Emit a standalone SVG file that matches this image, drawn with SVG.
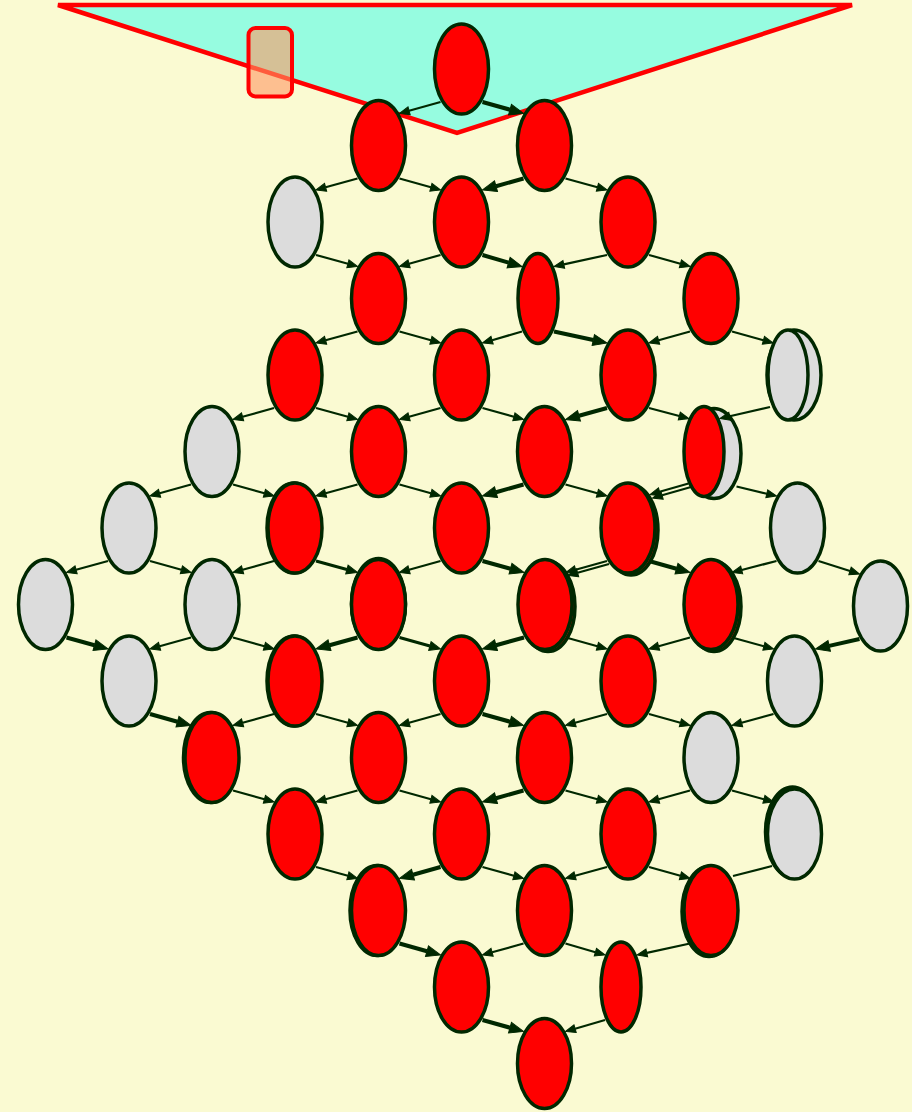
<svg xmlns="http://www.w3.org/2000/svg" width="912" height="1112" viewBox="0 0 912 1112">
<style>
.bg{fill:#fafad2}
ellipse{stroke:#002800;stroke-width:3.5}
.r{fill:#ff0000}
.g{fill:#dcdcdc}
#edges line{stroke:#002800;stroke-width:2.2;fill:none;marker-end:url(#a)}
#edges line.t{stroke-width:4;marker-end:url(#at)}
#edges line.m{stroke-width:3;marker-end:url(#am)}
#edges line.x{marker-end:none}
.ah{fill:#002800;stroke:#002800;stroke-width:1}
</style>
<defs>
<marker id="a" markerUnits="userSpaceOnUse" orient="auto" refX="0" refY="0" markerWidth="20" markerHeight="20" overflow="visible"><path class="ah" d="M0,-4 L10,0 L0,4 z"/></marker>
<marker id="am" markerUnits="userSpaceOnUse" orient="auto" refX="0" refY="0" markerWidth="20" markerHeight="20" overflow="visible"><path class="ah" d="M0,-4.5 L11,0 L0,4.5 z"/></marker>
<marker id="at" markerUnits="userSpaceOnUse" orient="auto" refX="0" refY="0" markerWidth="20" markerHeight="20" overflow="visible"><path class="ah" d="M0,-5.5 L14,0 L0,5.5 z"/></marker>
</defs>
<rect class="bg" x="0" y="0" width="912" height="1112"/>
<g id="cluster">
<polygon points="58,5 852,5 457,133" fill="#96fce0" stroke="#ff0000" stroke-width="4.5"/>
<rect x="248.5" y="28" width="43.5" height="68.5" rx="7" fill="#ff9864" fill-opacity="0.6" stroke="#ff0000" stroke-width="4"/>
</g>
<g id="nodes">
<g id="r0c5"><ellipse class="r" cx="461.5" cy="69" rx="27" ry="45"/></g>
<g id="r1c4"><ellipse class="r" cx="378.5" cy="145.5" rx="27" ry="45"/></g>
<g id="r1c6"><ellipse class="r" cx="544.5" cy="145.5" rx="27" ry="45"/></g>
<g id="r2c3"><ellipse class="g" cx="295" cy="222" rx="27" ry="45"/></g>
<g id="r2c5"><ellipse class="r" cx="461.5" cy="222" rx="27" ry="45"/></g>
<g id="r2c7"><ellipse class="r" cx="628" cy="222" rx="27" ry="45"/></g>
<g id="r3c4"><ellipse class="r" cx="378.5" cy="298.5" rx="27" ry="45"/></g>
<g id="r3c6"><ellipse class="r" cx="538" cy="298.5" rx="20" ry="45"/></g>
<g id="r3c8"><ellipse class="r" cx="711" cy="298.5" rx="27" ry="45"/></g>
<g id="r4c3"><ellipse class="r" cx="295" cy="375" rx="27" ry="45"/></g>
<g id="r4c5"><ellipse class="r" cx="461.5" cy="375" rx="27" ry="45"/></g>
<g id="r4c7"><ellipse class="r" cx="628" cy="375" rx="27" ry="45"/></g>
<g id="r4c9"><ellipse class="g" cx="794" cy="375" rx="27" ry="45"/><ellipse class="g" cx="788" cy="375" rx="20" ry="45"/></g>
<g id="r5c2"><ellipse class="g" cx="212" cy="451.5" rx="27" ry="45"/></g>
<g id="r5c4"><ellipse class="r" cx="378.5" cy="451.5" rx="27" ry="45"/></g>
<g id="r5c6"><ellipse class="r" cx="544.5" cy="451.5" rx="27" ry="45"/></g>
<g id="r5c8"><ellipse class="g" cx="714" cy="453.5" rx="27" ry="45"/><ellipse class="r" cx="704" cy="451.5" rx="20" ry="45"/></g>
<g id="r6c1"><ellipse class="g" cx="129" cy="528" rx="27" ry="45"/></g>
<g id="r6c3"><ellipse class="r" cx="294" cy="528" rx="27" ry="45"/><ellipse class="r" cx="295" cy="528" rx="27" ry="45"/></g>
<g id="r6c5"><ellipse class="r" cx="461.5" cy="528" rx="27" ry="45"/></g>
<g id="r6c7"><ellipse class="r" cx="631" cy="530" rx="27" ry="45"/><ellipse class="r" cx="628" cy="528" rx="27" ry="45"/></g>
<g id="r6c9"><ellipse class="g" cx="797.5" cy="528" rx="27" ry="45"/></g>
<g id="r7c0"><ellipse class="g" cx="45.5" cy="604.5" rx="27" ry="45"/></g>
<g id="r7c2"><ellipse class="g" cx="212" cy="604.5" rx="27" ry="45"/></g>
<g id="r7c4"><ellipse class="r" cx="378.5" cy="603.5" rx="27" ry="45"/><ellipse class="r" cx="378.5" cy="604.5" rx="27" ry="45"/></g>
<g id="r7c6"><ellipse class="r" cx="548" cy="606.5" rx="27" ry="45"/><ellipse class="r" cx="545" cy="604.5" rx="27" ry="45"/></g>
<g id="r7c8"><ellipse class="r" cx="714" cy="606.5" rx="27" ry="45"/><ellipse class="r" cx="711" cy="604.5" rx="27" ry="45"/></g>
<g id="r7c10"><ellipse class="g" cx="880.5" cy="606" rx="27" ry="45"/></g>
<g id="r8c1"><ellipse class="g" cx="129" cy="681" rx="27" ry="45"/></g>
<g id="r8c3"><ellipse class="r" cx="294" cy="681" rx="27" ry="45"/><ellipse class="r" cx="295" cy="681" rx="27" ry="45"/></g>
<g id="r8c5"><ellipse class="r" cx="461.5" cy="681" rx="27" ry="45"/></g>
<g id="r8c7"><ellipse class="r" cx="628" cy="681" rx="27" ry="45"/></g>
<g id="r8c9"><ellipse class="g" cx="794.5" cy="681" rx="27" ry="45"/></g>
<g id="r9c2"><ellipse class="r" cx="210.5" cy="757.5" rx="27" ry="45"/><ellipse class="r" cx="212" cy="757.5" rx="27" ry="45"/></g>
<g id="r9c4"><ellipse class="r" cx="378.5" cy="757.5" rx="27" ry="45"/></g>
<g id="r9c6"><ellipse class="r" cx="544.5" cy="757.5" rx="27" ry="45"/></g>
<g id="r9c8"><ellipse class="g" cx="711" cy="757.5" rx="27" ry="45"/></g>
<g id="r10c3"><ellipse class="r" cx="295" cy="834" rx="27" ry="45"/></g>
<g id="r10c5"><ellipse class="r" cx="461.5" cy="834" rx="27" ry="45"/></g>
<g id="r10c7"><ellipse class="r" cx="628" cy="834" rx="27" ry="45"/></g>
<g id="r10c9"><ellipse class="g" cx="792.5" cy="832" rx="27" ry="45"/><ellipse class="g" cx="794.5" cy="834" rx="27" ry="45"/></g>
<g id="r11c4"><ellipse class="r" cx="377" cy="910.5" rx="27" ry="45"/><ellipse class="r" cx="378.5" cy="910.5" rx="27" ry="45"/></g>
<g id="r11c6"><ellipse class="r" cx="544.5" cy="910.5" rx="27" ry="45"/></g>
<g id="r11c8"><ellipse class="r" cx="709" cy="911.5" rx="27" ry="45"/><ellipse class="r" cx="711" cy="910.5" rx="27" ry="45"/></g>
<g id="r12c5"><ellipse class="r" cx="461.5" cy="987" rx="27" ry="45"/></g>
<g id="r12c7"><ellipse class="r" cx="621" cy="987" rx="20" ry="45"/></g>
<g id="r13c6"><ellipse class="r" cx="544.5" cy="1063.5" rx="27" ry="45"/></g>
</g>
<g id="edges">
<line x1="440.5" y1="102" x2="409.1" y2="110.8"/>
<line class="t" x1="482.5" y1="102" x2="510" y2="109.7"/>
<line x1="357.5" y1="178.5" x2="325.6" y2="187.3"/>
<line x1="399.5" y1="178.5" x2="430.9" y2="187.3"/>
<line class="t" x1="523.5" y1="178.5" x2="496" y2="186.2"/>
<line x1="565.5" y1="178.5" x2="597.4" y2="187.3"/>
<line x1="316" y1="255" x2="347.9" y2="263.8"/>
<line x1="440.5" y1="255" x2="409.1" y2="263.8"/>
<line class="t" x1="482.5" y1="255" x2="508.6" y2="262.6"/>
<line x1="607" y1="255" x2="563.8" y2="264.4"/>
<line x1="649" y1="255" x2="680.4" y2="263.8"/>
<line x1="357.5" y1="331.5" x2="325.6" y2="340.3"/>
<line x1="399.5" y1="331.5" x2="430.9" y2="340.3"/>
<line x1="522" y1="331.5" x2="492.1" y2="340.2"/>
<line class="t" x1="554" y1="331.5" x2="593.3" y2="340"/>
<line x1="690" y1="331.5" x2="658.6" y2="340.3"/>
<line x1="732" y1="331.5" x2="763.4" y2="340.3"/>
<line x1="274" y1="408" x2="242.6" y2="416.8"/>
<line x1="316" y1="408" x2="347.9" y2="416.8"/>
<line x1="440.5" y1="408" x2="409.1" y2="416.8"/>
<line x1="482.5" y1="408" x2="513.9" y2="416.8"/>
<line class="t" x1="607" y1="408" x2="579" y2="415.8"/>
<line x1="649" y1="408" x2="679.3" y2="416"/>
<line x1="770" y1="407" x2="729.7" y2="416.3"/>
<line x1="191" y1="484.5" x2="159.6" y2="493.3"/>
<line x1="233" y1="484.5" x2="264.4" y2="493.3"/>
<line x1="357.5" y1="484.5" x2="325.6" y2="493.3"/>
<line x1="399.5" y1="484.5" x2="430.9" y2="493.3"/>
<line class="t" x1="523.5" y1="484.5" x2="496" y2="492.2"/>
<line x1="565.5" y1="484.5" x2="597.4" y2="493.3"/>
<line x1="688.5" y1="483.5" x2="659.6" y2="491.8"/>
<line x1="691" y1="487" x2="662.1" y2="495.3"/>
<line x1="736.5" y1="486.5" x2="766.8" y2="493.7"/>
<line x1="108" y1="561" x2="76.1" y2="569.8"/>
<line x1="150" y1="561" x2="181.4" y2="569.8"/>
<line x1="274" y1="561" x2="242.6" y2="569.8"/>
<line class="m" x1="316" y1="561" x2="346.9" y2="569.5"/>
<line x1="440.5" y1="561" x2="409.1" y2="569.8"/>
<line class="t" x1="482.5" y1="561" x2="510.5" y2="568.7"/>
<line x1="607" y1="561" x2="575.6" y2="569.8"/>
<line x1="609" y1="564" x2="577.6" y2="572.8"/>
<line class="t" x1="649" y1="561" x2="676.5" y2="568.7"/>
<line x1="776.5" y1="561" x2="741.7" y2="570"/>
<line x1="818.5" y1="561" x2="850" y2="571"/>
<line class="t" x1="66.5" y1="637.5" x2="94.5" y2="645.2"/>
<line x1="191" y1="637.5" x2="159.6" y2="646.3"/>
<line x1="233" y1="637.5" x2="264.4" y2="646.3"/>
<line class="t" x1="357.5" y1="637.5" x2="329.5" y2="645.2"/>
<line class="m" x1="399.5" y1="637.5" x2="429.9" y2="646"/>
<line class="t" x1="524" y1="637.5" x2="496" y2="645.2"/>
<line x1="566" y1="637.5" x2="597.4" y2="646.3"/>
<line x1="690" y1="637.5" x2="658.6" y2="646.3"/>
<line x1="732" y1="637.5" x2="763.9" y2="646.3"/>
<line class="t" x1="859.5" y1="639" x2="829.2" y2="645.9"/>
<line class="t" x1="150" y1="714" x2="177.5" y2="721.7"/>
<line x1="274" y1="714" x2="242.6" y2="722.8"/>
<line x1="316" y1="714" x2="347.9" y2="722.8"/>
<line x1="440.5" y1="714" x2="409.1" y2="722.8"/>
<line class="t" x1="482.5" y1="714" x2="510" y2="721.7"/>
<line x1="607" y1="714" x2="575.1" y2="722.8"/>
<line x1="649" y1="714" x2="680.4" y2="722.8"/>
<line x1="773.5" y1="714" x2="741.6" y2="722.8"/>
<line x1="233" y1="790.5" x2="264.4" y2="799.3"/>
<line x1="357.5" y1="790.5" x2="325.6" y2="799.3"/>
<line x1="399.5" y1="790.5" x2="430.9" y2="799.3"/>
<line class="t" x1="523.5" y1="790.5" x2="496" y2="798.2"/>
<line x1="565.5" y1="790.5" x2="597.4" y2="799.3"/>
<line x1="690" y1="790.5" x2="658.6" y2="799.3"/>
<line x1="732" y1="790.5" x2="763.9" y2="799.3"/>
<line x1="316" y1="867" x2="347.9" y2="875.8"/>
<line class="t" x1="440.5" y1="867" x2="413" y2="874.7"/>
<line x1="482.5" y1="867" x2="513.9" y2="875.8"/>
<line x1="607" y1="867" x2="575.1" y2="875.8"/>
<line x1="649" y1="867" x2="680.4" y2="875.8"/>
<line class="x" x1="772" y1="866" x2="733" y2="876"/>
<line class="t" x1="399.5" y1="943.5" x2="427" y2="951.2"/>
<line x1="523.5" y1="943.5" x2="492.1" y2="952.3"/>
<line x1="565.5" y1="943.5" x2="595.4" y2="952.2"/>
<line x1="690" y1="943.5" x2="646.8" y2="952.9"/>
<line class="t" x1="482.5" y1="1020" x2="510" y2="1027.7"/>
<line x1="605" y1="1020" x2="575.1" y2="1028.7"/>
</g>
</svg>
